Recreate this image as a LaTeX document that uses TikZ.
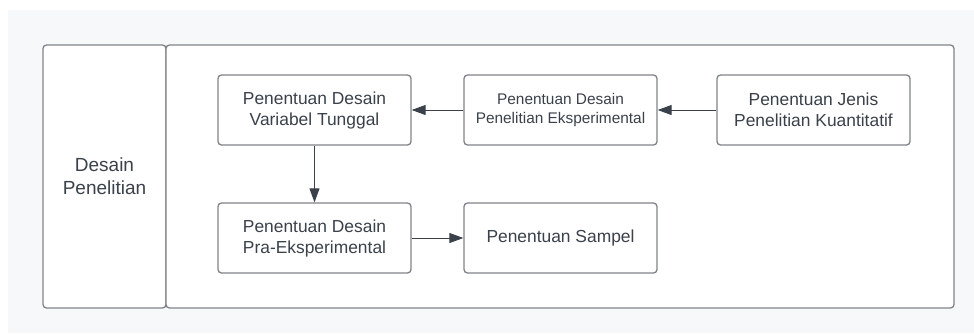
\documentclass[tikz,border=0pt]{standalone}
\usepackage{fontspec}
\setmainfont{Liberation Sans}
\usetikzlibrary{arrows.meta}
\definecolor{bgc}{HTML}{F7F8FA}
\definecolor{edgec}{HTML}{80848A}
\definecolor{txtc}{HTML}{3A414A}
\tikzset{
  box/.style={draw=edgec, line width=1.3pt, fill=white, rounded corners=3.5pt, inner sep=0pt},
  stepbox/.style={box, minimum width=193pt, minimum height=70pt, align=center, text=txtc,
     font=\fontsize{17.4pt}{21pt}\selectfont},
  conn/.style={draw=txtc, line width=1pt, -{Triangle[length=14pt,width=10pt]}}
}
\begin{document}
\begin{tikzpicture}[x=1pt,y=-1pt]
\useasboundingbox (0,0) rectangle (974,333);
\fill[bgc] (8,10) rectangle (974,333);
\node[box, minimum width=123pt, minimum height=263pt, align=center, text=txtc,
  font=\fontsize{19pt}{23pt}\selectfont] (left) at (104.5,176.5) {Desain\\Penelitian};
\node[box, minimum width=788pt, minimum height=263pt] (main) at (560,176.5) {};
\node[stepbox] (A) at (314.5,110) {Penentuan Desain\\Variabel Tunggal};
\node[stepbox, font=\fontsize{15.4pt}{19pt}\selectfont] (B) at (560.5,110) {Penentuan Desain\\Penelitian Eksperimental};
\node[stepbox] (C) at (813.5,110) {Penentuan Jenis\\Penelitian Kuantitatif};
\node[stepbox] (D) at (314.5,238) {Penentuan Desain\\Pra-Eksperimental};
\node[stepbox] (E) at (560.5,238) {Penentuan Sampel};
\draw[conn] (C) -- (B);
\draw[conn] (B) -- (A);
\draw[conn] (A) -- (D);
\draw[conn] (D) -- (E);
\end{tikzpicture}
\end{document}
